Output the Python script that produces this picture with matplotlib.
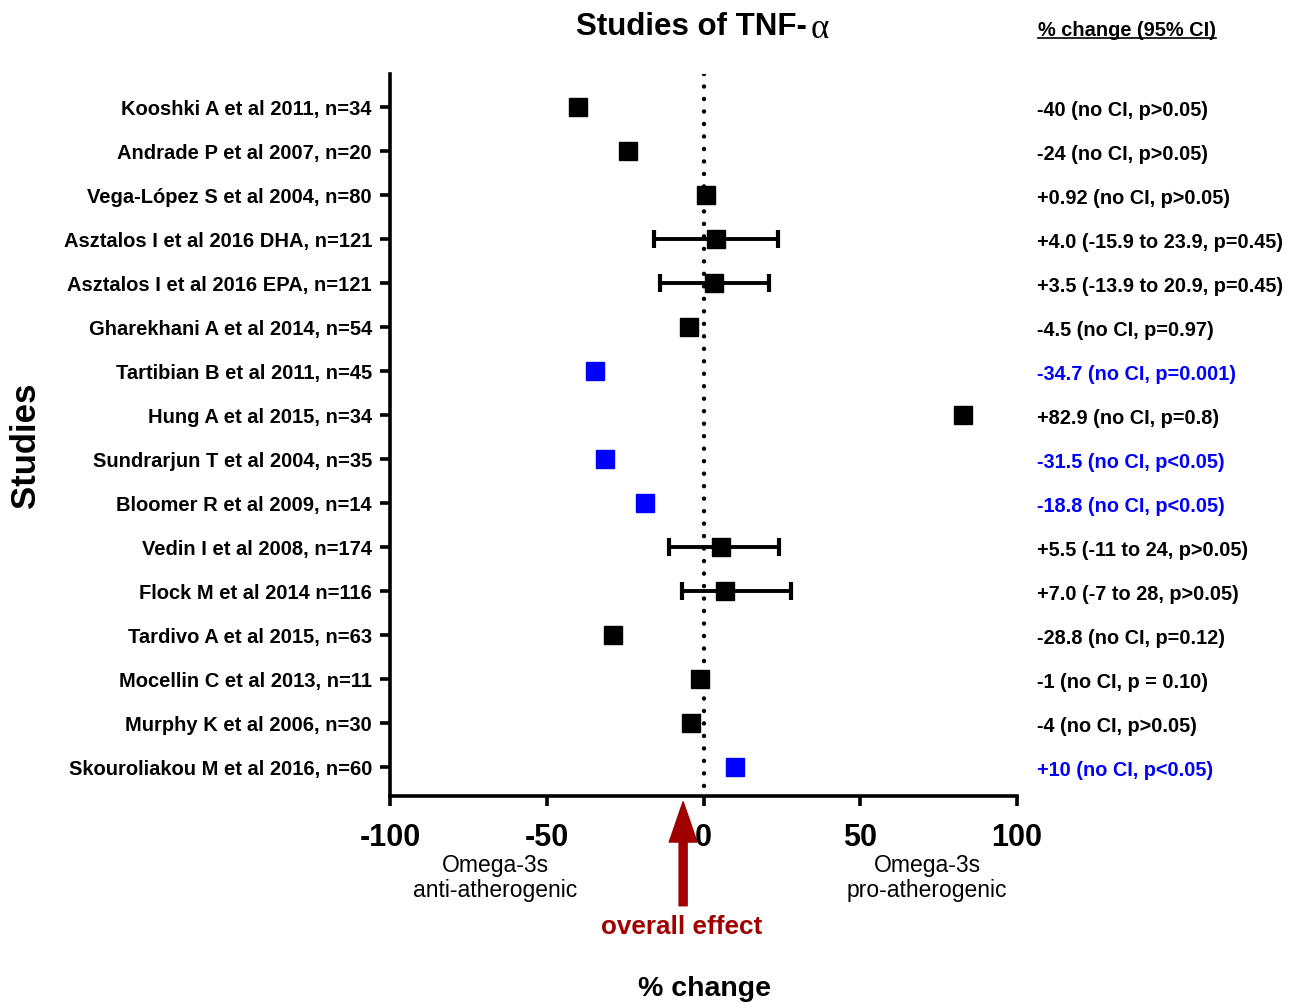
import matplotlib
matplotlib.use("Agg")
import matplotlib.pyplot as plt
from matplotlib.patches import FancyArrowPatch

plt.rcParams["font.family"] = ["Liberation Sans", "DejaVu Sans"]

studies = [
    "Kooshki A et al 2011, n=34",
    "Andrade P et al 2007, n=20",
    "Vega-López S et al 2004, n=80",
    "Asztalos I et al 2016 DHA, n=121",
    "Asztalos I et al 2016 EPA, n=121",
    "Gharekhani A et al 2014, n=54",
    "Tartibian B et al 2011, n=45",
    "Hung A et al 2015, n=34",
    "Sundrarjun T et al 2004, n=35",
    "Bloomer R et al 2009, n=14",
    "Vedin I et al 2008, n=174",
    "Flock M et al 2014 n=116",
    "Tardivo A et al 2015, n=63",
    "Mocellin C et al 2013, n=11",
    "Murphy K et al 2006, n=30",
    "Skouroliakou M et al 2016, n=60",
]
change = [-40, -24, 0.92, 4.0, 3.5, -4.5, -34.7, 82.9, -31.5, -18.8, 5.5, 7.0, -28.8, -1, -4, 10]
ci_low = [None, None, None, -15.9, -13.9, None, None, None, None, None, -11, -7, None, None, None, None]
ci_high = [None, None, None, 23.9, 20.9, None, None, None, None, None, 24, 28, None, None, None, None]
significant = [False, False, False, False, False, False, True, False, True, True, False, False, False, False, False, True]
summary = [
    "-40 (no CI, p>0.05)",
    "-24 (no CI, p>0.05)",
    "+0.92 (no CI, p>0.05)",
    "+4.0 (-15.9 to 23.9, p=0.45)",
    "+3.5 (-13.9 to 20.9, p=0.45)",
    "-4.5 (no CI, p=0.97)",
    "-34.7 (no CI, p=0.001)",
    "+82.9 (no CI, p=0.8)",
    "-31.5 (no CI, p<0.05)",
    "-18.8 (no CI, p<0.05)",
    "+5.5 (-11 to 24, p>0.05)",
    "+7.0 (-7 to 28, p>0.05)",
    "-28.8 (no CI, p=0.12)",
    "-1 (no CI, p = 0.10)",
    "-4 (no CI, p>0.05)",
    "+10 (no CI, p<0.05)",
]
overall_effect = -6.5

W, H = 1291, 1004
fig = plt.figure(figsize=(W / 100, H / 100), dpi=100)
ax = fig.add_axes([390 / W, 1 - 797 / H, 627 / W, 722 / H])

def fx(px):
    return px / W

def fy(py):
    return 1 - py / H

rows = list(range(1, len(studies) + 1))
lw = 2.6

# reference line at zero
ax.plot([0, 0], [0.25, 16.66], color="black", lw=3.2,
        linestyle=(0, (0.01, 2.8)), dash_capstyle="round", zorder=1)

for y, v, lo, hi, sig in zip(rows, change, ci_low, ci_high, significant):
    col = "#0000ff" if sig else "black"
    if lo is not None:
        ax.errorbar(v, y, xerr=[[v - lo], [hi - v]], fmt="none", ecolor="black",
                    elinewidth=2.8, capsize=6.5, capthick=3, zorder=2)
    ax.plot(v, y, marker="s", ms=12.5, color=col, linestyle="none", zorder=3)

ax.set_xlim(-100, 100)
ax.set_ylim(16.66, 0.25)
ax.set_xticks([-100, -50, 0, 50, 100])
ax.set_xticklabels(["-100", "-50", "0", "50", "100"], fontsize=22, fontweight="bold")
ax.set_yticks(rows)
ax.set_yticklabels(studies, fontsize=14.5, fontweight="bold")
ax.tick_params(axis="x", direction="out", length=7, width=lw, pad=12)
ax.tick_params(axis="y", direction="out", length=7, width=lw, pad=6)
for side in ["top", "right"]:
    ax.spines[side].set_visible(False)
for side in ["left", "bottom"]:
    ax.spines[side].set_linewidth(lw)

# per-study summary column
for y, s, sig in zip(rows, summary, significant):
    ax.text(1.032, y + 0.05, s, transform=ax.get_yaxis_transform(), ha="left", va="center",
            fontsize=14.3, fontweight="bold", color="#0000ff" if sig else "black")

fig.text(fx(1038), fy(30), "% change (95% CI)", ha="left", va="center",
         fontsize=14.4, fontweight="bold")
fig.add_artist(plt.Line2D([fx(1038), fx(1216)], [fy(39), fy(39)], color="black", lw=1.2))

# title with a serif alpha
fig.text(fx(807), fy(27), "Studies of TNF-", ha="right", va="center",
         fontsize=22.5, fontweight="bold")
fig.text(fx(811), fy(29), "α", ha="left", va="center", fontsize=25,
         family=["Liberation Serif", "DejaVu Serif"])

fig.text(fx(25), fy(445), "Studies", rotation=90, ha="center", va="center",
         fontsize=25, fontweight="bold")
fig.text(fx(704), fy(989), "% change", ha="center", va="center",
         fontsize=20.5, fontweight="bold")

fig.text(fx(495), fy(878), "Omega-3s\nanti-atherogenic", ha="center", va="center",
         fontsize=16.5, linespacing=1.15)
fig.text(fx(927), fy(878), "Omega-3s\npro-atherogenic", ha="center", va="center",
         fontsize=16.5, linespacing=1.15)

# overall effect arrow
arrow = FancyArrowPatch((overall_effect, -0.152), (overall_effect, -0.008),
                        transform=ax.get_xaxis_transform(),
                        arrowstyle="simple,head_length=29,head_width=20,tail_width=5.8",
                        mutation_scale=1, shrinkA=0, shrinkB=0,
                        color="#a00000", clip_on=False)
ax.add_patch(arrow)
fig.text(fx(682), fy(927), "overall effect", ha="center", va="center",
         fontsize=18.8, fontweight="bold", color="#a00000")

fig.savefig("out.png", dpi=100)
